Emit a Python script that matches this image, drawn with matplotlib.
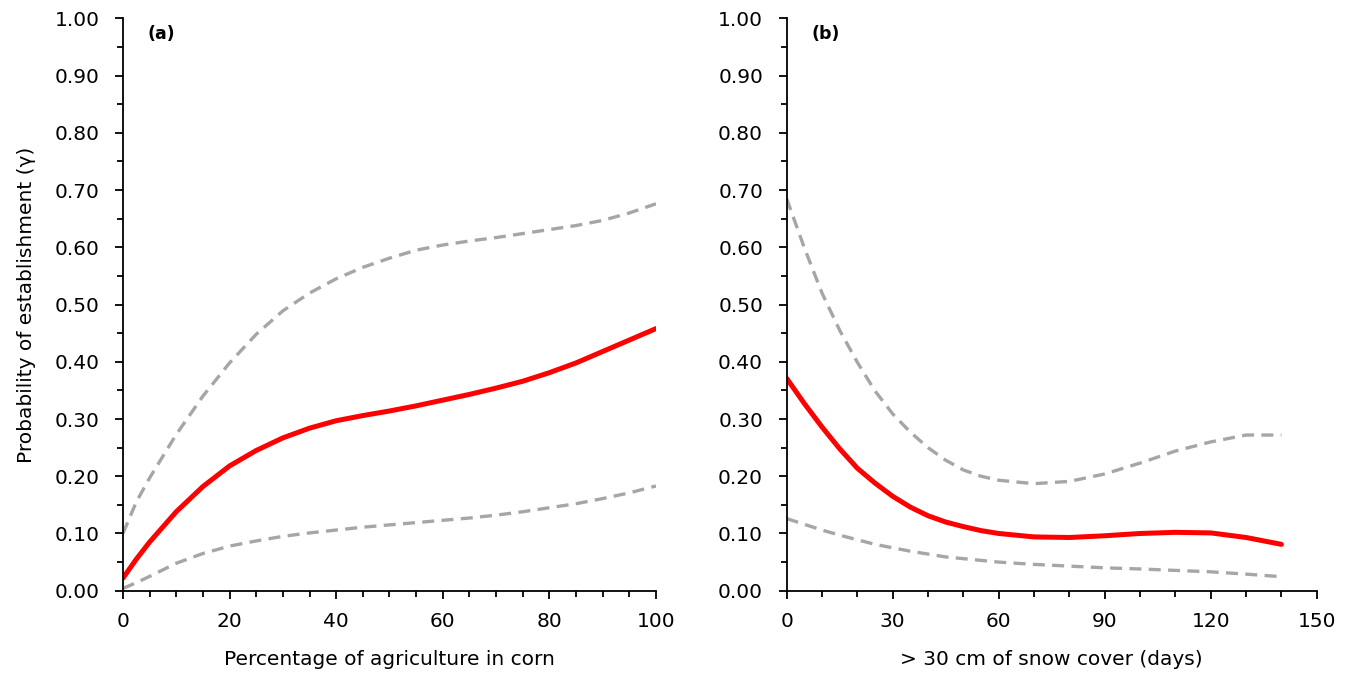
import matplotlib
matplotlib.use("Agg")
import matplotlib.pyplot as plt
from matplotlib.ticker import MultipleLocator, FormatStrFormatter

plt.rcParams['font.family'] = ['DejaVu Sans']

# panel (a): percentage of agriculture in corn
corn_x = [0, 2.5, 5, 10, 15, 20, 25, 30, 35, 40, 45, 50, 55, 60, 65, 70, 75, 80, 85, 90, 95, 100]
corn_mean = [0.022, 0.055, 0.085, 0.138, 0.182, 0.218, 0.245, 0.267, 0.284, 0.297, 0.306,
             0.314, 0.323, 0.333, 0.343, 0.354, 0.366, 0.381, 0.398, 0.418, 0.438, 0.458]
corn_upper = [0.10, 0.155, 0.197, 0.273, 0.34, 0.398, 0.448, 0.489, 0.52, 0.545, 0.565,
              0.581, 0.595, 0.604, 0.611, 0.617, 0.624, 0.631, 0.638, 0.647, 0.66, 0.676]
corn_lower = [0.004, 0.014, 0.025, 0.048, 0.065, 0.078, 0.087, 0.095, 0.101, 0.106, 0.111,
              0.115, 0.119, 0.123, 0.127, 0.132, 0.138, 0.145, 0.152, 0.161, 0.171, 0.183]

# panel (b): days with > 30 cm snow cover
snow_x = [0, 5, 10, 15, 20, 25, 30, 35, 40, 45, 50, 55, 60, 70, 80, 90, 100, 110, 120, 130, 140]
snow_mean = [0.371, 0.327, 0.286, 0.248, 0.214, 0.188, 0.165, 0.146, 0.131, 0.12, 0.112,
             0.105, 0.100, 0.094, 0.093, 0.096, 0.100, 0.102, 0.101, 0.093, 0.081]
snow_upper = [0.685, 0.599, 0.52, 0.455, 0.399, 0.349, 0.309, 0.277, 0.25, 0.228, 0.211,
              0.2, 0.193, 0.187, 0.191, 0.204, 0.223, 0.244, 0.26, 0.272, 0.272]
snow_lower = [0.126, 0.116, 0.106, 0.097, 0.089, 0.081, 0.075, 0.069, 0.064, 0.059, 0.056,
              0.053, 0.050, 0.046, 0.043, 0.040, 0.038, 0.0355, 0.033, 0.029, 0.0245]

fig = plt.figure(figsize=(13.54, 6.8), dpi=100)
ax1 = fig.add_axes([0.0908, 0.1313, 0.3937, 0.8417])
ax2 = fig.add_axes([0.581, 0.1313, 0.3915, 0.8417])

red = '#FF0000'
gray = '#A6A6A6'
dash = (0, (3.6, 2.2))
fs = 14.5

def style(ax, xmax, xmajor, xminor, label, xlabel):
    ax.set_xlim(0, xmax)
    ax.set_ylim(0, 1.0)
    for s in ['top', 'right']:
        ax.spines[s].set_visible(False)
    for s in ['left', 'bottom']:
        ax.spines[s].set_linewidth(1.3)
    ax.xaxis.set_major_locator(MultipleLocator(xmajor))
    ax.xaxis.set_minor_locator(MultipleLocator(xminor))
    ax.yaxis.set_major_locator(MultipleLocator(0.1))
    ax.yaxis.set_minor_locator(MultipleLocator(0.05))
    ax.yaxis.set_major_formatter(FormatStrFormatter('%.2f'))
    ax.tick_params(which='major', length=6, width=1.3, labelsize=fs)
    ax.tick_params(which='minor', length=4.5, width=1.3)
    ax.tick_params(axis='y', which='major', pad=11)
    ax.tick_params(axis='x', which='major', pad=9)
    ax.set_xlabel(xlabel, fontsize=fs, labelpad=14)
    ax.text(0.047, 0.988, label, transform=ax.transAxes, fontsize=12.5,
            fontweight='bold', va='top', ha='left')

ax1.plot(corn_x, corn_upper, color=gray, lw=2.4, linestyle=dash)
ax1.plot(corn_x, corn_lower, color=gray, lw=2.4, linestyle=dash)
ax1.plot(corn_x, corn_mean, color=red, lw=3.6, solid_capstyle='round')
style(ax1, 100, 20, 5, '(a)', 'Percentage of agriculture in corn')
ax1.set_ylabel('Probability of establishment (\u03b3)', fontsize=14.5, labelpad=13)

ax2.plot(snow_x, snow_upper, color=gray, lw=2.4, linestyle=dash)
ax2.plot(snow_x, snow_lower, color=gray, lw=2.4, linestyle=dash)
ax2.plot(snow_x, snow_mean, color=red, lw=3.6, solid_capstyle='round')
style(ax2, 150, 30, 10, '(b)', '> 30 cm of snow cover (days)')

fig.savefig('out.png', dpi=100)
